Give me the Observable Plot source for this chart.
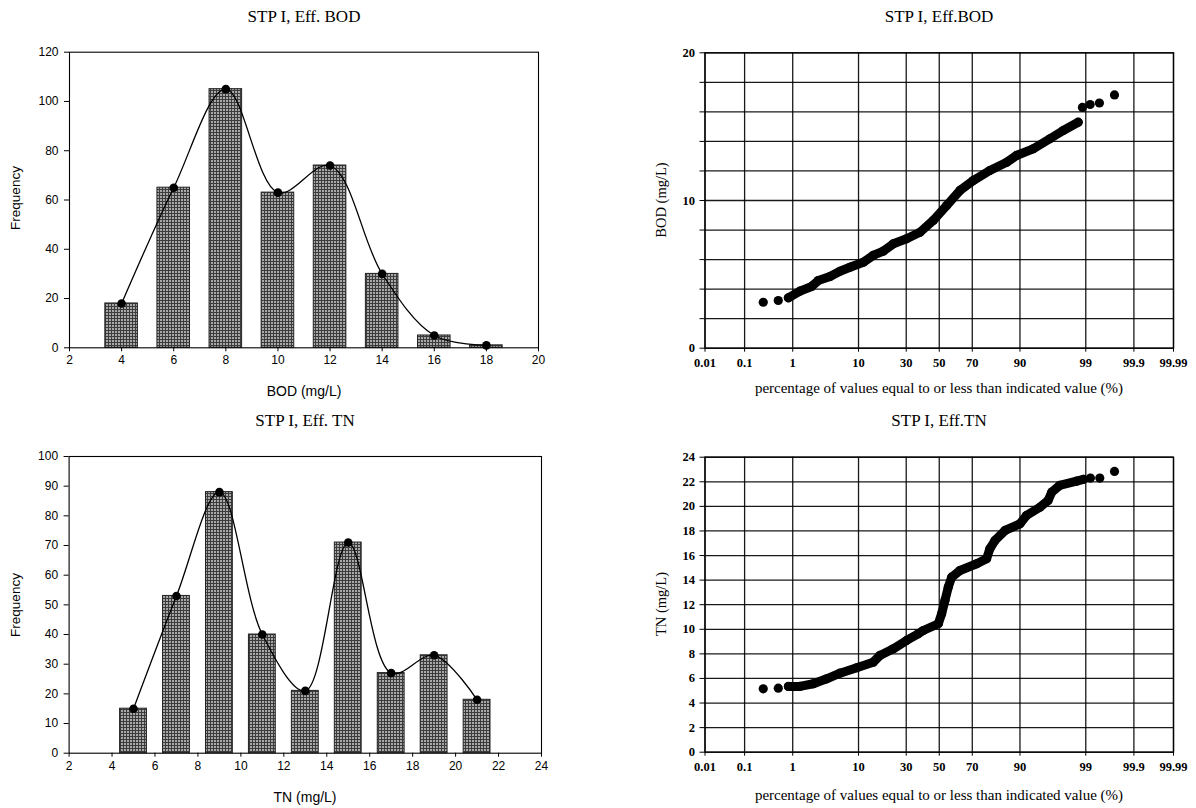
<!DOCTYPE html>
<html><head><meta charset="utf-8">
<script src="https://cdn.jsdelivr.net/npm/d3@7"></script>
<script src="https://cdn.jsdelivr.net/npm/@observablehq/plot@0.6"></script>
<style>
body{margin:0;background:#fff;}
#wrap{position:relative;width:1196px;height:808px;overflow:hidden;background:#fff;}
.panel{position:absolute;}
.t{position:absolute;white-space:nowrap;color:#000;transform:translate(-50%,-50%);line-height:1;}
.serif{font-family:"Liberation Serif","Times New Roman",serif;}
.sans{font-family:"Liberation Sans",Arial,sans-serif;}
.rot{transform:translate(-50%,-50%) rotate(-90deg);}
</style></head><body><div id="wrap"></div>
<script>
// ---- histogram data ----
const bodBins=[4,6,8,10,12,14,16,18];
const bodFreq=[18,65,105,63,74,30,5,1];
const tnBins=[5,7,9,11,13,15,17,19,21];
const tnFreq=[15,53,88,40,21,71,27,33,18];
const bodXTicks=[2,4,6,8,10,12,14,16,18,20];
const bodYTicks=[0,20,40,60,80,100,120];
const tnXTicks=[2,4,6,8,10,12,14,16,18,20,22,24];
const tnYTicks=[0,10,20,30,40,50,60,70,80,90,100];

// ---- probability plot data (percent, value) ----
const bodPct=[0.26,0.53,0.83,1.35,2.14,2.74,4.14,5.75,7.82,11.4,14.7,18.7,23.3,30.2,38.0,46.2,54.7,62.9,70.5,78.9,85.8,89.0,93.2,96.05,97.55,98.63,98.85,99.17,99.45,99.73];
const bodVal=[3.11,3.23,3.41,3.86,4.18,4.58,4.85,5.21,5.48,5.82,6.28,6.57,7.07,7.41,7.85,8.65,9.66,10.68,11.35,12.03,12.59,13.05,13.5,14.18,14.74,15.3,16.3,16.5,16.6,17.15];
const tnPct=[0.26,0.53,0.83,1.35,2.28,3.7,5.75,9.5,14.7,17.3,23.3,30.2,36.9,40.0,49.4,51.5,53.6,55.7,57.8,62.9,72.4,77.4,78.9,81.2,85.2,90.0,91.7,94.5,95.8,96.3,97.2,98.54,98.9,99.18,99.46,99.73];
const tnVal=[5.16,5.21,5.35,5.35,5.57,5.97,6.43,6.87,7.32,7.87,8.41,9.09,9.63,9.9,10.45,11.26,12.34,13.43,14.24,14.78,15.33,15.74,16.55,17.23,18.04,18.58,19.26,19.93,20.48,21.16,21.7,22.05,22.2,22.3,22.3,22.84];
const probTicks=[0.01,0.1,1,10,30,50,70,90,99,99.9,99.99];
const probTickLabels=["0.01","0.1","1","10","30","50","70","90","99","99.9","99.99"];
const bodGridY=[0,2,4,6,8,10,12,14,16,18,20];
const bodLabelY=[0,10,20];
const tnGridY=[0,2,4,6,8,10,12,14,16,18,20,22,24];

// inverse standard normal CDF (Acklam)
function qnorm(p){
  const a=[-3.969683028665376e+01,2.209460984245205e+02,-2.759285104469687e+02,1.383577518672690e+02,-3.066479806614716e+01,2.506628277459239e+00];
  const b=[-5.447609879822406e+01,1.615858368580409e+02,-1.556989798598866e+02,6.680131188771972e+01,-1.328068155288572e+01];
  const c=[-7.784894002430293e-03,-3.223964580411365e-01,-2.400758277161838e+00,-2.549732539343734e+00,4.374664141464968e+00,2.938163982698783e+00];
  const d=[7.784695709041462e-03,3.224671290700398e-01,2.445134137142996e+00,3.754408661907416e+00];
  const pl=0.02425;
  if(p<pl){const q=Math.sqrt(-2*Math.log(p));return (((((c[0]*q+c[1])*q+c[2])*q+c[3])*q+c[4])*q+c[5])/((((d[0]*q+d[1])*q+d[2])*q+d[3])*q+1);}
  if(p>1-pl){const q=Math.sqrt(-2*Math.log(1-p));return -(((((c[0]*q+c[1])*q+c[2])*q+c[3])*q+c[4])*q+c[5])/((((d[0]*q+d[1])*q+d[2])*q+d[3])*q+1);}
  const q=p-0.5,r=q*q;
  return (((((a[0]*r+a[1])*r+a[2])*r+a[3])*r+a[4])*r+a[5])*q/(((((b[0]*r+b[1])*r+b[2])*r+b[3])*r+b[4])*r+1);
}

const wrap=document.getElementById("wrap");
function place(el,left,top){el.classList.add("panel");el.style.left=left+"px";el.style.top=top+"px";wrap.appendChild(el);}
function label(text,x,y,cls,size,rot){
  const d=document.createElement("div");
  d.className="t "+cls+(rot?" rot":"");
  d.style.left=x+"px";d.style.top=y+"px";d.style.fontSize=size+"px";
  d.textContent=text;wrap.appendChild(d);
}

function histPanel(bins,freq,xTicks,yTicks,m,id){
  const data=bins.map((b,i)=>({x:b,f:freq[i]}));
  const bw=1.25;
  const svg=Plot.plot({
    width:598,height:m.h,marginLeft:m.l,marginRight:m.r,marginTop:m.t,marginBottom:m.b,
    style:{fontFamily:"Liberation Sans, Arial, sans-serif",fontSize:"12px",color:"#000",background:"transparent"},
    x:{domain:[xTicks[0],xTicks[xTicks.length-1]]},
    y:{domain:[yTicks[0],yTicks[yTicks.length-1]]},
    marks:[
      Plot.rectY(data,{x1:d=>d.x-bw/2,x2:d=>d.x+bw/2,y:"f",fill:`url(#${id})`,stroke:"#222",strokeWidth:1}),
      Plot.line(data,{x:"x",y:"f",curve:"catmull-rom",stroke:"#000",strokeWidth:1.3}),
      Plot.dot(data,{x:"x",y:"f",r:4.3,fill:"#000",stroke:"none"}),
      Plot.frame({stroke:"#000",strokeWidth:1.1}),
      Plot.axisX(xTicks,{tickSize:4,tickPadding:4,label:null,stroke:"#000"}),
      Plot.axisY(yTicks,{tickSize:5,tickPadding:6,label:null,stroke:"#000"})
    ]
  });
  const defs=d3.select(svg).insert("defs",":first-child");
  const pat=defs.append("pattern").attr("id",id).attr("patternUnits","userSpaceOnUse").attr("width",3).attr("height",3);
  pat.append("rect").attr("width",3).attr("height",3).attr("fill","#a8a8a8");
  pat.append("path").attr("d","M0,0.5H3M0.5,0V3").attr("stroke","#3c3c3c").attr("stroke-width",1).attr("fill","none");
  return svg;
}

function probPanel(pct,val,bandStart,bandEnd,gridY,labelY,m){
  const data=pct.map((p,i)=>({z:qnorm(p/100),v:val[i]}));
  const zTicks=probTicks.map(p=>qnorm(p/100));
  const lab=new Map(zTicks.map((z,i)=>[z,probTickLabels[i]]));
  const labSet=new Set(labelY);
  const svg=Plot.plot({
    width:598,height:m.h,marginLeft:m.l,marginRight:m.r,marginTop:m.t,marginBottom:m.b,
    style:{fontFamily:"Liberation Serif, Times New Roman, serif",fontSize:"12.5px",fontWeight:"bold",color:"#000",background:"transparent"},
    x:{domain:[zTicks[0],zTicks[zTicks.length-1]]},
    y:{domain:[gridY[0],gridY[gridY.length-1]]},
    marks:[
      Plot.gridX(zTicks,{stroke:"#000",strokeOpacity:0.9,strokeWidth:1.3}),
      Plot.gridY(gridY,{stroke:"#000",strokeOpacity:0.9,strokeWidth:1.3}),
      Plot.frame({stroke:"#000",strokeWidth:1.3}),
      Plot.line(data.slice(bandStart,bandEnd+1),{x:"z",y:"v",stroke:"#000",strokeWidth:9,strokeLinecap:"round",strokeLinejoin:"round"}),
      Plot.dot(data,{x:"z",y:"v",r:4.6,fill:"#000",stroke:"none"}),
      Plot.axisX(zTicks,{tickSize:4,tickPadding:6,label:null,tickFormat:z=>lab.get(z),stroke:"#000"}),
      Plot.axisY(gridY,{tickSize:5,tickPadding:5,label:null,tickFormat:v=>labSet.has(v)?String(v):"",stroke:"#000"})
    ]
  });
  return svg;
}

place(histPanel(bodBins,bodFreq,bodXTicks,bodYTicks,{h:400,l:69,r:60,t:51.7,b:52.7},"hatchA"),0,0);
place(histPanel(tnBins,tnFreq,tnXTicks,tnYTicks,{h:408,l:68.6,r:57,t:56,b:55.3},"hatchB"),0,400);
place(probPanel(bodPct,bodVal,2,25,bodGridY,bodLabelY,{h:400,l:106.5,r:23,t:52.3,b:52.3}),598,0);
place(probPanel(tnPct,tnVal,2,32,tnGridY,tnGridY,{h:408,l:106.5,r:23,t:56.7,b:56.3}),598,400);

// titles and axis labels
label("STP I, Eff. BOD",304,16,"serif",17);
label("STP I, Eff. TN",305,420,"serif",17);
label("STP I, Eff.BOD",939,16,"serif",17);
label("STP I, Eff.TN",939,420,"serif",17);
label("Frequency",16,198,"sans",13.5,true);
label("Frequency",16,605,"sans",13.5,true);
label("BOD (mg/L)",304,391,"sans",14);
label("TN (mg/L)",305,797,"sans",14);
label("BOD (mg/L)",661,200,"serif",14.5,true);
label("TN (mg/L)",661,604,"serif",14.5,true);
label("percentage of values equal to or less than indicated value (%)",939,388,"serif",15);
label("percentage of values equal to or less than indicated value (%)",939,795,"serif",15);
</script></body></html>
